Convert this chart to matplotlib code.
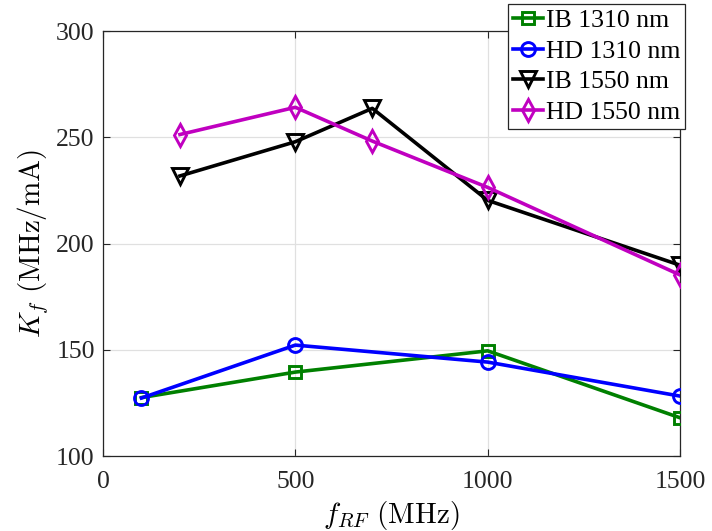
import matplotlib
matplotlib.use('Agg')
import matplotlib.pyplot as plt

plt.rcParams['font.family'] = ['Liberation Serif', 'DejaVu Serif']
plt.rcParams['mathtext.fontset'] = 'cm'

# data
x_1310 = [100, 500, 1000, 1500]
ib_1310 = [127.5, 139.5, 149.5, 118]
hd_1310 = [127.3, 152.2, 144.2, 128.2]

x_1550 = [200, 500, 700, 1000, 1500]
ib_1550 = [231.8, 247.9, 263.6, 220.3, 189.8]
hd_1550 = [251.3, 264.1, 248.2, 226.4, 185.2]

labels = ['IB 1310 nm', 'HD 1310 nm', 'IB 1550 nm', 'HD 1550 nm']
xticks = [0, 500, 1000, 1500]
yticks = [100, 150, 200, 250, 300]

fig = plt.figure(figsize=(7.12, 5.31), dpi=100)
ax = fig.add_axes([0.1447, 0.1412, 0.8104, 0.8004])

lw = 2.6
ms = 10
mew = 2.1
ax.plot(x_1310, ib_1310, '-s', color='#008000', lw=lw, ms=ms - 2, mew=mew,
        mfc='none', label=labels[0], zorder=3)
ax.plot(x_1310, hd_1310, '-o', color='#0000ff', lw=lw, ms=ms, mew=mew,
        mfc='none', label=labels[1], zorder=3)
ax.plot(x_1550, ib_1550, '-v', color='black', lw=lw, ms=ms + 1, mew=mew,
        mfc='none', label=labels[2], zorder=3)
ax.plot(x_1550, hd_1550, '-d', color='#c000c0', lw=lw, ms=ms + 1, mew=mew,
        mfc='none', label=labels[3], zorder=3)

ax.set_xlim(0, 1500)
ax.set_ylim(100, 300)
ax.set_xticks(xticks)
ax.set_yticks(yticks)
ax.tick_params(direction='in', labelsize=18.5, colors='#262626', length=5,
               top=True, right=True, labelcolor='#262626')
ax.tick_params(axis='y', pad=6)
ax.tick_params(axis='x', pad=11)
ax.grid(True, color='#e0e0e0', lw=0.9)
ax.set_axisbelow(True)
for s in ax.spines.values():
    s.set_color('#262626')
    s.set_linewidth(0.9)

ax.set_xlabel(r'$f_{RF}\ \mathrm{(MHz)}$', fontsize=21, labelpad=4)
ax.set_ylabel(r'$K_f\ \mathrm{(MHz/mA)}$', fontsize=21, labelpad=4)

leg = ax.legend(loc='upper right', bbox_to_anchor=(1.0087, 1.064), fontsize=18.5,
                handlelength=1.15, handletextpad=0.1, borderpad=0.2,
                labelspacing=0.3, fancybox=False, framealpha=1,
                borderaxespad=0)
leg.get_frame().set_edgecolor('#262626')
leg.get_frame().set_linewidth(0.9)

fig.savefig('out.png', dpi=100)
